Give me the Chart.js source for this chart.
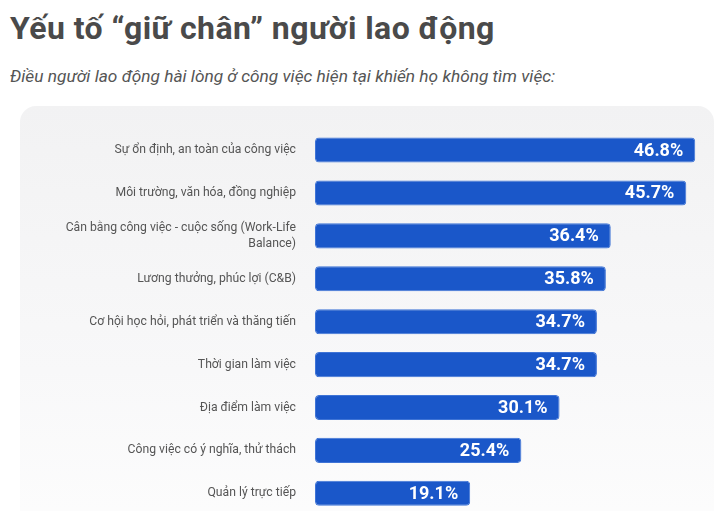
<!DOCTYPE html>
<html>
<head>
<meta charset="utf-8">
<script src="https://cdn.jsdelivr.net/npm/chart.js@4.4.1/dist/chart.umd.min.js"></script>
<style>
  html, body { margin:0; padding:0; width:715px; height:511px; overflow:hidden; background:#ffffff; }
  #title { position:absolute; left:10px; top:9px; font-family:Roboto, sans-serif; font-weight:700; font-size:32px; color:#4a4a4a; white-space:nowrap; letter-spacing:0.45px; }
  #subtitle { position:absolute; left:10px; top:66px; font-family:Roboto, sans-serif; font-style:italic; font-size:17.3px; color:#555555; white-space:nowrap; }
  #panel { position:absolute; left:20px; top:106px; width:694px; height:440px; border-radius:16px; background:linear-gradient(to bottom, #f2f2f3 0%, #f8f8f9 60%, #fdfdfd 100%); }
  #c { position:absolute; left:0; top:0; }
</style>
</head>
<body>
<div id="panel"></div>
<div id="title">Yếu tố “giữ chân” người lao động</div>
<div id="subtitle">Điều người lao động hài lòng ở công việc hiện tại khiến họ không tìm việc:</div>
<canvas id="c" width="715" height="542" style="width:715px;height:542px"></canvas>
<script>
const categories = [
  "Sự ổn định, an toàn của công việc",
  "Môi trường, văn hóa, đồng nghiệp",
  ["Cân bằng công việc - cuộc sống (Work-Life", "Balance)"],
  "Lương thưởng, phúc lợi (C&B)",
  "Cơ hội học hỏi, phát triển và thăng tiến",
  "Thời gian làm việc",
  "Địa điểm làm việc",
  "Công việc có ý nghĩa, thử thách",
  "Quản lý trực tiếp"
];
const values = [46.8, 45.7, 36.4, 35.8, 34.7, 34.7, 30.1, 25.4, 19.1];
const valueLabels = ["46.8%", "45.7%", "36.4%", "35.8%", "34.7%", "34.7%", "30.1%", "25.4%", "19.1%"];

const valuePlugin = {
  id: 'valueLabels',
  afterDatasetsDraw(chart) {
    const ctx = chart.ctx;
    const meta = chart.getDatasetMeta(0);
    ctx.save();
    ctx.fillStyle = '#ffffff';
    ctx.font = '700 18px Roboto, sans-serif';
    ctx.textAlign = 'right';
    ctx.textBaseline = 'middle';
    meta.data.forEach((bar, i) => {
      ctx.fillText(valueLabels[i], bar.x - 12, bar.y + 1);
    });
    ctx.restore();
  }
};

new Chart(document.getElementById('c'), {
  type: 'bar',
  data: {
    labels: categories,
    datasets: [{
      data: values,
      backgroundColor: '#1a57c9',
      borderColor: '#3f74d6',
      borderWidth: 1,
      borderRadius: 4,
      borderSkipped: false,
      barPercentage: 0.585,
      categoryPercentage: 1.0
    }]
  },
  options: {
    indexAxis: 'y',
    responsive: false,
    animation: false,
    layout: { padding: { left: 0, right: 10, top: 128.6, bottom: 16.6 } },
    plugins: { legend: { display: false }, tooltip: { enabled: false } },
    scales: {
      x: {
        min: 0, max: 48,
        display: false,
        grid: { display: false }
      },
      y: {
        grid: { display: false, drawTicks: false },
        border: { display: false },
        ticks: {
          padding: 19,
          color: '#555555',
          font: { family: 'Roboto, sans-serif', size: 12.2, lineHeight: 1.35 }
        },
        afterFit(scale) { scale.width = 315; }
      }
    }
  },
  plugins: [valuePlugin]
});
</script>
</body>
</html>
